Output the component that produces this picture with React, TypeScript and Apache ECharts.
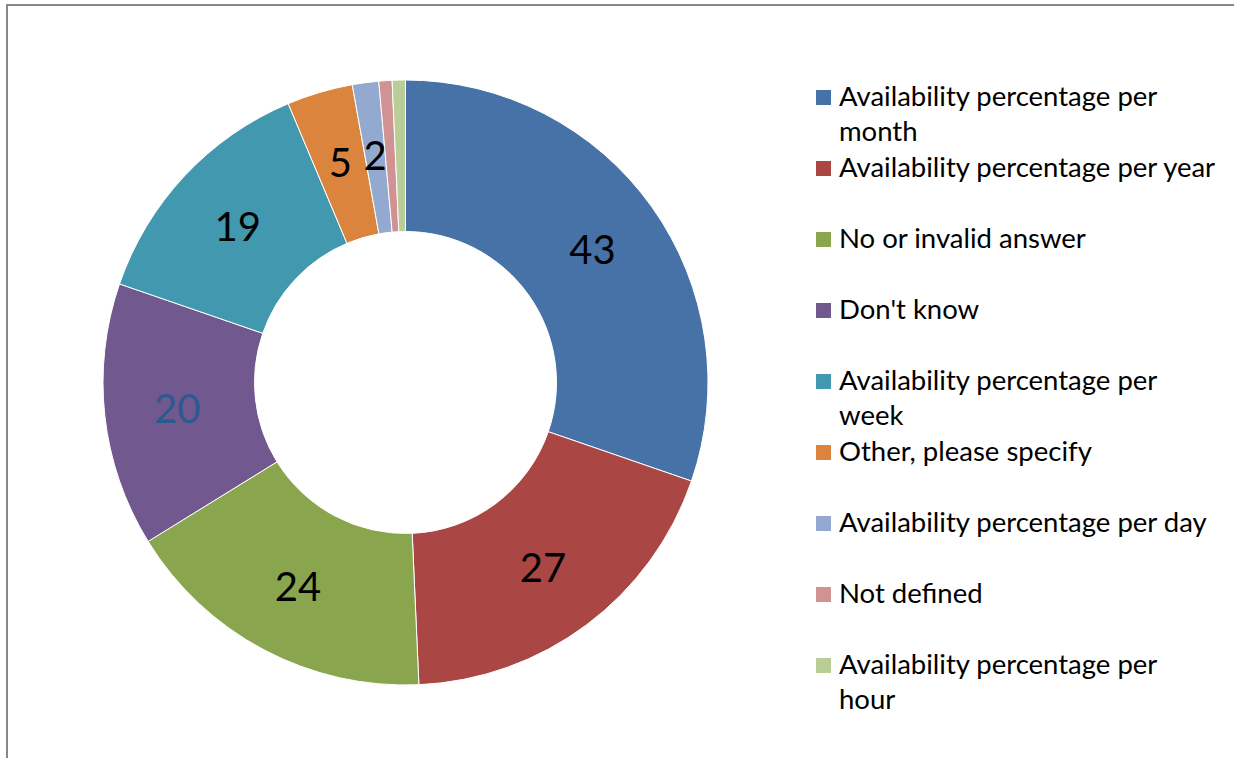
import React, { useEffect, useRef } from "react";
import * as echarts from "echarts";

const categories = [
  "Availability percentage per month",
  "Availability percentage per year",
  "No or invalid answer",
  "Don't know",
  "Availability percentage per week",
  "Other, please specify",
  "Availability percentage per day",
  "Not defined",
  "Availability percentage per hour",
];
const legendLines = [
  "Availability percentage per\nmonth",
  "Availability percentage per year",
  "No or invalid answer",
  "Don't know",
  "Availability percentage per\nweek",
  "Other, please specify",
  "Availability percentage per day",
  "Not defined",
  "Availability percentage per\nhour",
];
const values = [43, 27, 24, 20, 19, 5, 2, 1, 1];
const showLabel = [true, true, true, true, true, true, true, false, false];
const colors = [
  "#4672A8",
  "#AA4744",
  "#89A54E",
  "#71588F",
  "#4198AF",
  "#DB843D",
  "#93A9D0",
  "#D09292",
  "#B9CD97",
];
const labelColors = ["#000", "#000", "#000", "#2B5A8E", "#000", "#000", "#000", "#000", "#000"];

export default function App() {
  const ref = useRef<HTMLDivElement>(null);
  useEffect(() => {
    document.body.style.margin = "0";
    const chart = echarts.init(ref.current!, null, { renderer: "svg" });
    const legendTop = 97;
    const legendStep = 71;
    const legendGraphics: any[] = [];
    categories.forEach((c, i) => {
      const cy = legendTop + i * legendStep;
      legendGraphics.push({
        type: "rect",
        shape: { x: 816, y: cy - 7, width: 15, height: 15 },
        style: { fill: colors[i] },
      });
      legendGraphics.push({
        type: "text",
        x: 839,
        y: cy - 19,
        style: {
          text: legendLines[i],
          font: "27.5px Lato",
          fill: "#000",
          lineHeight: 35,
          verticalAlign: "top",
        },
      });
    });
    chart.setOption({
      animation: false,
      backgroundColor: "#fff",
      graphic: [
        {
          type: "rect",
          shape: { x: 7, y: 5, width: 1300, height: 800 },
          style: { fill: "none", stroke: "#878787", lineWidth: 2 },
        },
        ...legendGraphics,
      ],
      series: [
        {
          type: "pie",
          center: [405.5, 382.5],
          radius: [151, 302.5],
          startAngle: 90,
          clockwise: true,
          avoidLabelOverlap: false,
          itemStyle: { borderColor: "#fff", borderWidth: 1 },
          label: {
            show: true,
            position: "inside",
            formatter: "{c}",
            fontFamily: "Lato",
            fontSize: 40,
            color: "#000",
          },
          labelLine: { show: false },
          emphasis: { disabled: true },
          data: categories.map((name, i) => ({
            name,
            value: values[i],
            itemStyle: { color: colors[i] },
            label: { show: showLabel[i], color: labelColors[i] },
          })),
        },
      ],
    });
    return () => chart.dispose();
  }, []);
  return <div ref={ref} style={{ width: 1234, height: 758 }} />;
}
